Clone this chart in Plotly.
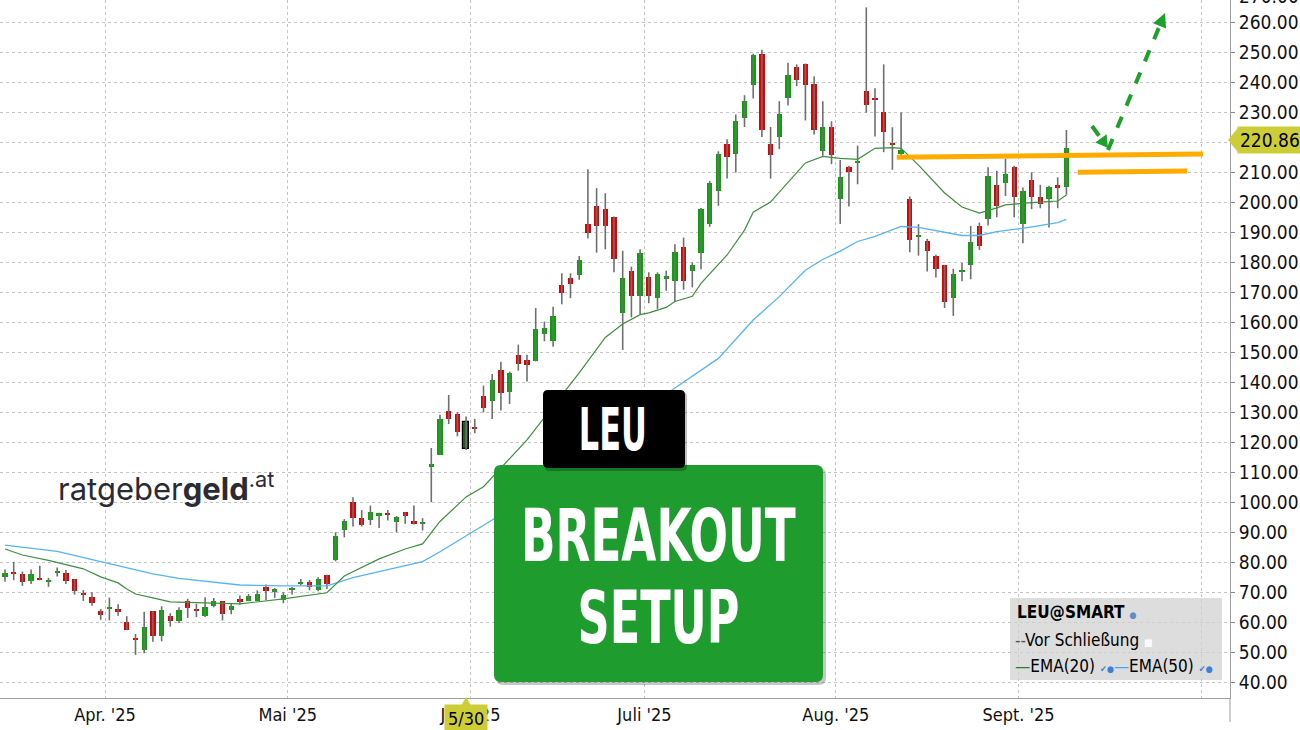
import math
import pandas as pd
import plotly.graph_objects as go

# ---------------- data ----------------
holidays = ["2025-04-18", "2025-05-26", "2025-06-19", "2025-07-04", "2025-09-01"]
dates = [d for d in pd.bdate_range("2025-03-14", "2025-09-09") if d.strftime("%Y-%m-%d") not in holidays]

open_ = [75.2, 76.9, 76.1, 73.7, 74.6, 73.3, 76.6, 76.3, 74.4, 69.8, 68.4, 63.8, 64.4, 64.3, 60.2, 54.7, 50.7, 63.7, 55.5, 62.2,
         60.3, 67.2, 64.4, 62.2, 65.3, 67.0, 63.9, 67.6, 67.2, 67.2, 71.7, 70.2, 67.4, 70.8, 72.6, 73.3, 70.6, 75.8, 80.6, 90.9,
         100.0, 94.8, 94.1, 95.3, 96.3, 93.3, 96.7, 93.6, 92.8, 111.9, 115.8, 130.3, 129.4, 117.8, 125.0, 135.6, 133.9, 144.2, 136.9, 149.2,
         147.4, 147.2, 156.1, 153.9, 172.4, 174.7, 175.9, 193.0, 198.7, 198.0, 195.3, 163.3, 177.2, 168.9, 175.0, 168.0, 174.4, 173.9, 185.2, 177.0,
         183.0, 192.7, 203.9, 219.4, 216.1, 228.3, 239.1, 249.7, 219.4, 221.7, 234.9, 245.2, 246.1, 239.7, 217.1, 225.2, 201.2, 212.0, 213.1, 237.2,
         234.9, 230.3, 219.8, 216.2, 201.1, 188.7, 187.3, 182.0, 179.0, 168.3, 177.0, 179.2, 192.2, 194.6, 205.7, 206.4, 211.8, 192.9, 207.6, 202.0,
         201.1, 205.7, 205.3]
high = [77.6, 80.1, 76.9, 77.6, 78.8, 74.8, 78.2, 77.4, 74.4, 70.7, 70.0, 64.4, 68.2, 66.0, 62.0, 56.0, 63.5, 63.7, 65.3, 63.0,
        65.0, 67.8, 66.1, 68.3, 68.1, 67.0, 66.1, 68.9, 69.4, 70.6, 72.6, 71.4, 70.0, 71.7, 74.4, 74.1, 75.0, 75.8, 90.0, 94.4,
        101.7, 97.4, 98.9, 96.5, 97.4, 95.4, 96.7, 98.9, 94.7, 118.1, 129.2, 135.8, 130.0, 128.6, 127.8, 138.9, 142.8, 146.9, 143.6, 152.6,
        149.2, 164.8, 160.3, 165.2, 176.4, 176.4, 182.2, 211.1, 204.8, 203.1, 195.3, 183.9, 178.6, 184.4, 176.7, 176.7, 177.2, 186.1, 188.3, 180.0,
        198.2, 207.2, 217.1, 221.1, 229.4, 235.8, 249.6, 251.0, 225.2, 233.8, 246.6, 246.1, 246.4, 242.1, 233.8, 227.1, 214.2, 212.3, 219.0, 265.1,
        238.1, 246.1, 225.1, 230.0, 202.0, 192.8, 187.9, 182.6, 179.2, 177.9, 179.8, 192.2, 193.3, 211.8, 210.6, 214.6, 212.3, 205.0, 210.1, 205.9,
        205.6, 208.4, 224.2]
low = [73.5, 74.0, 72.1, 72.7, 74.0, 71.8, 75.2, 72.7, 69.2, 67.1, 65.5, 60.8, 60.6, 62.1, 57.3, 49.1, 49.6, 53.5, 53.6, 58.5,
       59.7, 61.4, 61.7, 61.7, 65.0, 60.6, 62.6, 65.9, 67.0, 67.0, 67.4, 68.1, 66.3, 69.2, 72.2, 70.6, 70.3, 71.1, 80.3, 88.3,
       91.9, 91.9, 92.4, 91.4, 93.9, 90.0, 92.8, 92.6, 90.6, 100.0, 115.8, 126.1, 122.0, 117.4, 123.0, 130.0, 127.8, 130.6, 132.8, 143.9,
       140.3, 147.0, 153.7, 151.9, 166.1, 168.1, 174.2, 188.0, 183.3, 184.4, 176.7, 150.8, 161.7, 162.8, 166.4, 164.4, 170.6, 166.9, 170.9, 171.7,
       177.7, 191.9, 198.9, 208.0, 210.0, 225.2, 234.7, 221.9, 208.0, 217.8, 232.4, 238.8, 227.4, 222.7, 215.6, 212.8, 192.8, 198.7, 206.1, 230.0,
       222.0, 216.8, 210.9, 215.3, 183.4, 182.3, 177.0, 175.0, 164.8, 162.2, 173.7, 174.4, 184.2, 192.3, 195.1, 202.2, 195.1, 186.4, 197.8, 198.1,
       191.7, 198.1, 202.6]
close = [76.5, 76.3, 73.3, 76.1, 74.2, 74.0, 77.1, 73.8, 70.3, 69.1, 66.4, 62.5, 64.8, 63.3, 57.5, 54.3, 58.3, 55.4, 64.2, 60.3,
         64.2, 64.8, 63.9, 65.0, 67.2, 62.8, 65.3, 67.0, 68.7, 69.4, 70.3, 70.9, 69.1, 71.1, 73.3, 71.9, 74.4, 72.6, 88.6, 93.6,
         94.8, 92.4, 96.9, 96.3, 95.8, 95.2, 95.3, 93.0, 93.2, 112.8, 127.8, 127.8, 123.6, 126.9, 124.6, 131.4, 140.9, 136.4, 143.1, 146.1,
         145.8, 157.8, 158.3, 162.0, 169.8, 172.8, 180.8, 190.0, 192.2, 192.2, 181.1, 174.7, 168.7, 183.0, 168.7, 176.3, 175.6, 183.6, 173.7, 179.1,
         197.7, 206.6, 216.3, 215.2, 227.2, 233.8, 249.3, 224.1, 215.8, 229.7, 242.4, 241.0, 239.3, 224.1, 225.2, 215.8, 208.4, 210.1, 213.9, 232.6,
         234.4, 223.4, 219.3, 217.6, 187.6, 189.1, 183.7, 177.9, 166.8, 176.2, 177.6, 186.7, 185.6, 208.7, 198.7, 209.6, 202.0, 204.0, 201.7, 199.4,
         205.3, 205.0, 218.1]

ema20_pos = [0, 2, 5, 9, 11, 13, 14, 15, 17, 19, 27, 32, 37, 39, 43, 46, 48, 50, 53, 55, 60, 66, 69, 71, 73, 74, 76, 77, 79, 80,
             83, 85, 86, 88, 89, 92, 94, 96, 98, 100, 102, 103, 105, 108, 110, 112, 114, 115, 118, 121, 122]
ema20 = [84.4, 82.4, 80.6, 77.8, 75.1, 73.1, 71.1, 69.4, 68.1, 66.8, 66.1, 67.8, 69.8, 75.4, 81.1, 84.4, 86.1, 93.6, 101.8, 105.2,
         120.8, 143.2, 155.0, 159.5, 162.6, 163.2, 165.0, 167.0, 168.7, 173.0, 182.5, 190.8, 196.8, 200.2, 203.5, 213.2, 215.4, 214.7, 214.4, 218.1,
         218.3, 218.1, 212.5, 203.2, 198.5, 196.5, 198.2, 199.2, 200.0, 200.5, 202.5]
ema50_pos = [0, 6, 11, 17, 20, 27, 32, 37, 40, 48, 50, 56, 77, 82, 86, 89, 92, 94, 96, 98, 100, 103, 105, 108, 110, 112, 114, 117, 121, 122]
ema50 = [85.7, 83.6, 80.2, 76.1, 74.6, 72.4, 72.1, 72.1, 74.9, 80.2, 83.5, 94.1, 138.1, 148.0, 160.8, 168.6, 177.4, 181.0, 183.8, 187.0,
         188.7, 192.0, 191.7, 190.0, 189.0, 189.0, 190.3, 191.4, 193.3, 194.4]

month_labels = ["Apr. '25", "Mai '25", "Juni '25", "Juli '25", "Aug. '25", "Sept. '25", " "]
month_starts = ["2025-04", "2025-05", "2025-06", "2025-07", "2025-08", "2025-09"]
last_price = 220.86
top_cut_tick = 270.0
selected_date = "2025-05-30"
selected_label = "5/30"
resistance_upper = (215.1, 216.2)   # hand-drawn line levels (start, end)
resistance_lower = (210.1, 210.5)

# ---------------- geometry helpers (pixels -> paper) ----------------
W, H = 1300, 730
ML, MR, MT, MB = 0, 70, 0, 32
PW, PH = W - ML - MR, H - MT - MB
def px(x): return (x - ML) / PW
def py(y): return 1 - (y - MT) / PH

FONT = "DejaVu Sans Condensed, DejaVu Sans, sans-serif"
HEAVY = "DejaVu Sans, sans-serif"

n = len(dates)
idx = list(range(n))
date_str = [d.strftime("%Y-%m-%d") for d in dates]
sel = date_str.index(selected_date)

UP, DN = "#00a800", "#e00000"
base = [min(o, c) for o, c in zip(open_, close)]
hgt = [max(abs(c - o), 0.45) for o, c in zip(open_, close)]
cols = [UP if c >= o else DN for o, c in zip(open_, close)]
lcol = ["rgba(0,0,0,0)"] * n
lw = [0] * n
cols[sel] = "#1f5a1f"; lcol[sel] = "#000000"; lw[sel] = 1.2

wx, wy = [], []
for i in idx:
    wx += [i, i, None]
    wy += [low[i], high[i], None]

fig = go.Figure()
fig.add_trace(go.Scatter(x=wx, y=wy, mode="lines", line=dict(color="#6f6f6f", width=1.6),
                         hoverinfo="skip", showlegend=False))
fig.add_trace(go.Bar(x=idx, y=hgt, base=base, width=0.6,
                     marker=dict(color=cols, line=dict(color=lcol, width=lw)), showlegend=False))
fig.add_trace(go.Scatter(x=ema50_pos, y=ema50, mode="lines", line=dict(color="#55b4f5", width=1.3), showlegend=False))
fig.add_trace(go.Scatter(x=ema20_pos, y=ema20, mode="lines", line=dict(color="#3f8f3f", width=1.2), showlegend=False))

tickvals = []
for m in month_starts:
    first = next(i for i, s in enumerate(date_str) if s.startswith(m))
    tickvals.append(first - 0.5)
tickvals.append(tickvals[-1] + 21)  # October grid line (future)

x0 = -0.575
x1 = x0 + PW / 8.7
y_lo, y_hi = 34.7, 267.57
ppu = PH / (y_hi - y_lo)  # pixels per price unit

fig.update_layout(
    width=W, height=H, margin=dict(l=ML, r=MR, t=MT, b=MB, autoexpand=False),
    paper_bgcolor="white", plot_bgcolor="white",
    font=dict(family=FONT, size=18, color="#111111"),
    bargap=0, showlegend=False,
    xaxis=dict(range=[x0, x1], tickvals=tickvals, ticktext=month_labels, showgrid=True,
               gridcolor="#c4c4c4", griddash="dot", gridwidth=1, zeroline=False,
               showline=True, linecolor="#a0a0a0", ticks="", tickfont=dict(size=18)),
    yaxis=dict(range=[y_lo, y_hi], side="right", dtick=10, tick0=0, tickformat=".2f",
               showgrid=True, gridcolor="#c4c4c4", griddash="dot", gridwidth=1, zeroline=False,
               showline=True, linecolor="#a0a0a0", ticks="outside", ticklen=4, tickcolor="#888888",
               tickfont=dict(size=19)),
)

shapes = []
annos = []

# y axis line continues a little below the plot
shapes.append(dict(type="line", xref="paper", yref="paper", x0=1, x1=1, y0=py(698), y1=py(722),
                   line=dict(color="#a0a0a0", width=1)))

# orange hand-drawn resistance lines
shapes.append(dict(type="line", xref="x", yref="y", x0=102.5, x1=137.7, y0=resistance_upper[0], y1=resistance_upper[1],
                   line=dict(color="#ffab00", width=5)))
shapes.append(dict(type="line", xref="x", yref="y", x0=123.3, x1=135.9, y0=resistance_lower[0], y1=resistance_lower[1],
                   line=dict(color="#ffab00", width=5)))

GA = "#1fa02a"
def arrow(tail, tip, head_len=14, half_w=7):
    dx, dy = tip[0] - tail[0], tip[1] - tail[1]
    L = math.hypot(dx, dy)
    ux, uy = dx / L, dy / L
    bx, by = tip[0] - head_len * ux, tip[1] - head_len * uy
    pxv, pyv = -uy, ux
    shapes.append(dict(type="line", xref="paper", yref="paper", x0=px(tail[0]), y0=py(tail[1]),
                       x1=px(bx), y1=py(by), line=dict(color=GA, width=4, dash="dash")))
    pts = [tip, (bx + half_w * pxv, by + half_w * pyv), (bx - half_w * pxv, by - half_w * pyv)]
    path = "M {},{} L {},{} L {},{} Z".format(*[v for p in pts for v in (px(p[0]), py(p[1]))])
    shapes.append(dict(type="path", xref="paper", yref="paper", path=path, fillcolor=GA, line=dict(width=0)))

arrow((1108, 150), (1165, 13))
arrow((1092, 126), (1108, 148), head_len=12, half_w=7)

def rrect(x0_, y0_, x1_, y1_, r):
    P = lambda x, y: f"{px(x)},{py(y)}"
    return (f"M {P(x0_ + r, y0_)} L {P(x1_ - r, y0_)} Q {P(x1_, y0_)} {P(x1_, y0_ + r)} "
            f"L {P(x1_, y1_ - r)} Q {P(x1_, y1_)} {P(x1_ - r, y1_)} L {P(x0_ + r, y1_)} "
            f"Q {P(x0_, y1_)} {P(x0_, y1_ - r)} L {P(x0_, y0_ + r)} Q {P(x0_, y0_)} {P(x0_ + r, y0_)} Z")

shapes.append(dict(type="path", xref="paper", yref="paper", path=rrect(496, 468, 826, 685, 7),
                   fillcolor="rgba(0,0,0,0.22)", line=dict(width=0)))
shapes.append(dict(type="path", xref="paper", yref="paper", path=rrect(494, 465, 823, 682, 7),
                   fillcolor="#1e9c2e", line=dict(width=0)))
shapes.append(dict(type="path", xref="paper", yref="paper", path=rrect(545, 392, 687, 471, 5),
                   fillcolor="rgba(0,0,0,0.25)", line=dict(width=0)))
shapes.append(dict(type="path", xref="paper", yref="paper", path=rrect(543, 390, 685, 468, 5),
                   fillcolor="#000000", line=dict(width=0)))

annos.append(dict(xref="paper", yref="paper", x=px(613), y=py(430), text="<b>LEU</b>", showarrow=False,
                  font=dict(family=HEAVY, size=58, color="white"), xanchor="center", yanchor="middle"))
annos.append(dict(xref="paper", yref="paper", x=px(658), y=py(535), text="<b>BREAKOUT</b>", showarrow=False,
                  font=dict(family=HEAVY, size=73, color="white"), xanchor="center", yanchor="middle"))
annos.append(dict(xref="paper", yref="paper", x=px(658), y=py(617), text="<b>SETUP</b>", showarrow=False,
                  font=dict(family=HEAVY, size=73, color="white"), xanchor="center", yanchor="middle"))

# logo
annos.append(dict(xref="paper", yref="paper", x=px(56), y=py(486), xanchor="left", yanchor="middle",
                  text="ratgeber<b>geld</b><sup>.at</sup>", showarrow=False,
                  font=dict(family="Inter, Roboto, sans-serif", size=31, color="#2b2b33")))

# legend box
shapes.append(dict(type="rect", xref="paper", yref="paper", x0=px(1010), x1=px(1222), y0=py(598), y1=py(680),
                   fillcolor="rgba(208,208,208,0.72)", line=dict(width=0)))
annos.append(dict(xref="paper", yref="paper", x=px(1015), y=py(612), xanchor="left", yanchor="middle", showarrow=False,
                  text="<b>LEU@SMART</b> <span style='color:#5a8fc8;font-size:9px'>●</span>",
                  font=dict(family=FONT, size=17, color="#000")))
annos.append(dict(xref="paper", yref="paper", x=px(1013), y=py(640), xanchor="left", yanchor="middle", showarrow=False,
                  text="<span style='color:#555'>--</span>Vor Schließung <span style='color:#fafafa;font-size:10px'>■</span>",
                  font=dict(family=FONT, size=17, color="#000")))
annos.append(dict(xref="paper", yref="paper", x=px(1013), y=py(666), xanchor="left", yanchor="middle", showarrow=False,
                  text="<span style='color:#2e7d32'>—</span>EMA(20) <span style='color:#3d7fd6;font-size:9px'>✔●</span>"
                       "<span style='color:#42a5f5'>—</span>EMA(50) <span style='color:#3d7fd6;font-size:9px'>✔●</span>",
                  font=dict(family=FONT, size=17, color="#000")))

# partially visible top tick label (cut by the top edge, as in the original)
annos.append(dict(xref="paper", yref="paper", x=px(1237), y=1 + (top_cut_tick - y_hi) * ppu / PH,
                  xanchor="left", yanchor="middle", yshift=-3,
                  text=f"{top_cut_tick:.2f}", showarrow=False, font=dict(family=FONT, size=19, color="#111")))

# last price label on the right axis
LP = "#cdcd38"
shapes.append(dict(type="path", xref="paper", yref="y",
                   path=f"M {px(1228)},{last_price} L {px(1238)},{last_price + 4.1} L {px(1238)},{last_price - 4.1} Z",
                   fillcolor=LP, line=dict(width=0)))
annos.append(dict(xref="paper", yref="y", x=px(1237), y=last_price, xanchor="left", yanchor="middle",
                  text=f"{last_price:.2f}", showarrow=False, bgcolor=LP, borderpad=2,
                  font=dict(family=FONT, size=19, color="#000")))

# selected-date label on the x axis
shapes.append(dict(type="path", xref="x", yref="paper",
                   path=f"M {sel},{py(697)} L {sel - 0.6},{py(706)} L {sel + 0.6},{py(706)} Z",
                   fillcolor=LP, line=dict(width=0)))
annos.append(dict(xref="x", yref="paper", x=sel - 0.05, y=py(718), xanchor="center", yanchor="middle",
                  text=selected_label, showarrow=False, bgcolor=LP, borderpad=3,
                  font=dict(family=FONT, size=18, color="#000")))

fig.update_layout(shapes=shapes, annotations=annos)

post = """
(function(){
  document.body.style.margin = '0px';
  document.body.style.padding = '0px';
  var targets = {'LEU': 68, 'BREAKOUT': 275, 'SETUP': 162};
  function fix(){
    document.querySelectorAll('text.annotation-text').forEach(function(t){
      var k = (t.textContent || '').trim();
      if (targets[k]) {
        t.removeAttribute('transform');
        var b = t.getBBox();
        if (!b.width) return;
        var sx = targets[k] / b.width;
        var cx = b.x + b.width / 2;
        t.setAttribute('transform', 'translate(' + cx + ',0) scale(' + sx + ',1) translate(' + (-cx) + ',0)');
      }
    });
  }
  fix();
  setTimeout(fix, 50);
  setTimeout(fix, 400);
  var gd = document.getElementById('{plot_id}');
  if (gd && gd.on) { gd.on('plotly_afterplot', fix); }
})();
"""
fig.write_html("out.html", post_script=post, config={"displayModeBar": False})
